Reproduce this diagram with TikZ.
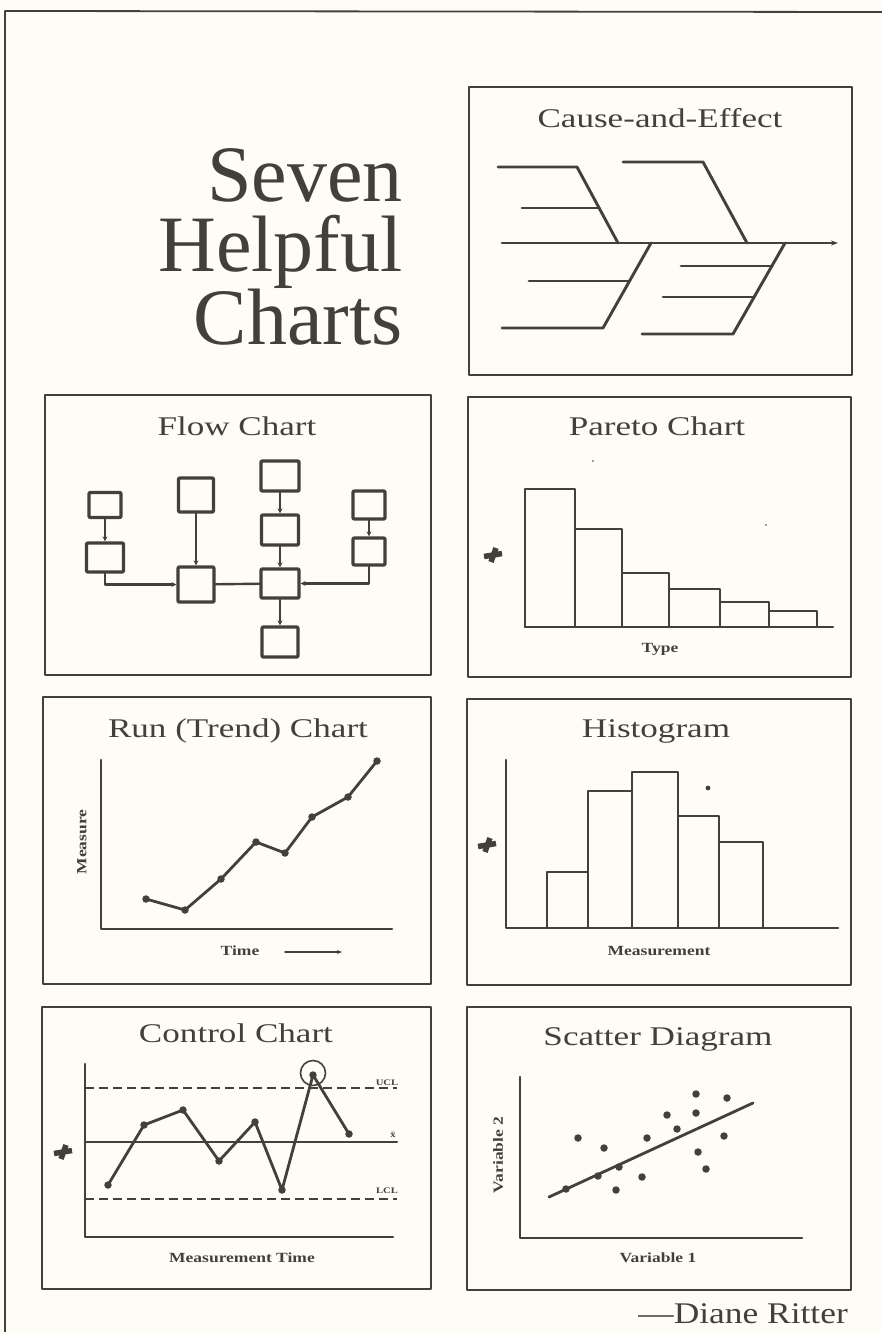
\documentclass[tikz,border=0pt]{standalone}
\usepackage{fontspec}
\setmainfont{Liberation Serif}
\newfontfamily\wideserif{Liberation Serif}[FakeStretch=1.3,Ligatures=TeX]
\newfontfamily\lblfont{Liberation Serif}[FakeStretch=1.25,Ligatures=TeX]
\newfontfamily\sigfont{Liberation Serif}[FakeStretch=1.18,Ligatures=TeX]
\usetikzlibrary{arrows.meta}
\definecolor{ink}{RGB}{66,64,58}
\definecolor{paper}{RGB}{253,253,246}
\begin{document}
\begin{tikzpicture}[x=1pt,y=-1pt,line join=round,line cap=round,
  every node/.style={text=ink,inner sep=0pt},
  panel/.style={draw=ink,line width=2.1pt,line cap=butt},
  ttl/.style={anchor=base,font=\wideserif\fontsize{27}{30}\selectfont},
  lbl/.style={anchor=base,font=\lblfont\fontsize{14}{16}\selectfont\bfseries},
  tiny/.style={anchor=base,font=\lblfont\fontsize{8.5}{9}\selectfont\bfseries},
  axis/.style={draw=ink,line width=2.6pt},
  bone/.style={draw=ink,line width=2.9pt},
  bar/.style={draw=ink,line width=2.8pt},
  fbox/.style={draw=ink,line width=3.2pt,rounded corners=1pt},
  conn/.style={draw=ink,line width=2.4pt},
  arr/.style={conn,-{Stealth[length=5pt,width=5pt]}},
  dot/.style={circle,fill=ink,minimum size=7.5pt},
  hashstroke/.style={draw=ink,line width=5.5pt,line cap=butt},
  trend/.style={draw=ink,line width=2.8pt},
  limitline/.style={draw=ink,line width=2.6pt,dash pattern=on 9pt off 5pt,line cap=butt}]
\fill[paper] (0,0) rectangle (882,1332);
\useasboundingbox (0,0) rectangle (882,1332);
% outer frame
\draw[draw=ink,line width=1.8pt,line cap=butt] (5,1332) -- (5,11) -- (882,12);

% big title
\node[anchor=north east,align=right,font=\fontsize{80}{70}\selectfont] (title) at (403,148) {Seven\\Helpful\\Charts};

% ---------------- Cause-and-Effect
\draw[panel] (469,87) rectangle (852,375);
\node[ttl] (ceT) at (660,128) {Cause-and-Effect};
\draw[bone,-{Stealth[length=7pt,width=5pt]}] (502,243) -- (838,243);
\draw[bone] (498,167) -- (577,167) -- (618,243);
\draw[bone] (522,208) -- (599,208);
\draw[bone] (623,162) -- (703,162) -- (747,243);
\draw[bone] (651,243) -- (603,328) -- (502,328);
\draw[bone] (529,281) -- (630,281);
\draw[bone] (785,243) -- (733,334) -- (642,334);
\draw[bone] (681,266) -- (772,266);
\draw[bone] (663,297) -- (754,297);

% ---------------- Flow Chart
\draw[panel] (45,395) rectangle (431,675);
\node[ttl] (flT) at (237,435) {Flow Chart};
\node[fbox,minimum width=32pt,minimum height=25pt] (A1) at (105,505) {};
\node[fbox,minimum width=37pt,minimum height=29pt] (A2) at (105,557.5) {};
\node[fbox,minimum width=35pt,minimum height=34pt] (B1) at (196,495) {};
\node[fbox,minimum width=36pt,minimum height=35pt] (B2) at (196,584.5) {};
\node[fbox,minimum width=38pt,minimum height=30pt] (C1) at (280,476) {};
\node[fbox,minimum width=37pt,minimum height=30pt] (C2) at (280,530) {};
\node[fbox,minimum width=38pt,minimum height=29pt] (C3) at (280,583.5) {};
\node[fbox,minimum width=36pt,minimum height=30pt] (C4) at (280,642) {};
\node[fbox,minimum width=32pt,minimum height=28pt] (D1) at (369,505) {};
\node[fbox,minimum width=32pt,minimum height=27pt] (D2) at (369,551.5) {};
\draw[arr] (A1) -- (A2);
\draw[arr] (A2.south) |- (B2.west);
\draw[arr] (B1) -- (B2);
\draw[conn] (B2) -- (C3);
\draw[arr] (C1) -- (C2);
\draw[arr] (C2) -- (C3);
\draw[arr] (C3) -- (C4);
\draw[arr] (D1) -- (D2);
\draw[arr] (D2.south) |- (C3.east);

% ---------------- Pareto Chart
\draw[panel] (468,397) rectangle (851,677);
\node[ttl] (paT) at (657,435) {Pareto Chart};
\draw[bar] (525,627) rectangle (575,489);
\draw[bar] (575,627) rectangle (622,529);
\draw[bar] (622,627) rectangle (669,573);
\draw[bar] (669,627) rectangle (720,589);
\draw[bar] (720,627) rectangle (769,602);
\draw[bar] (769,627) rectangle (817,611);
\draw[axis] (525,627) -- (833,627);
\node (paH) at (493,555) {};
\draw[hashstroke] ([shift={(-9,1.5)}]paH.center) -- ([shift={(9,-1.5)}]paH.center);
\draw[hashstroke] ([shift={(-2,7)}]paH.center) -- ([shift={(3,-7)}]paH.center);
\node[lbl] (paX) at (660,652) {Type};
\fill[ink] (593,461) circle (0.8pt);
\fill[ink] (766,525) circle (0.8pt);

% ---------------- Run (Trend) Chart
\draw[panel] (43,697) rectangle (431,984);
\node[ttl] (ruT) at (238,737) {Run (Trend) Chart};
\draw[axis] (101,760) -- (101,929) -- (392,929);
\node[lbl,anchor=center,rotate=90] (ruY) at (82,842) {Measure};
\node[lbl] (ruX) at (240,955) {Time};
\coordinate (ta) at (285,952);
\coordinate (tb) at (342,952);
\draw[draw=ink,line width=1.8pt,-{Stealth[length=5pt,width=4pt]}] (ta) -- (tb);
\node[dot] (r1) at (146,899) {};
\node[dot] (r2) at (185,910) {};
\node[dot] (r3) at (221,879) {};
\node[dot] (r4) at (256,842) {};
\node[dot] (r5) at (285,853) {};
\node[dot] (r6) at (312,817) {};
\node[dot] (r7) at (348,797) {};
\node[dot] (r8) at (377,761) {};
\draw[trend] (r1.center) -- (r2.center) -- (r3.center) -- (r4.center) -- (r5.center) -- (r6.center) -- (r7.center) -- (r8.center);

% ---------------- Histogram
\draw[panel] (467,699) rectangle (851,985);
\node[ttl] (hiT) at (656,737) {Histogram};
\draw[bar] (547,928) rectangle (588,872);
\draw[bar] (588,928) rectangle (632,791);
\draw[bar] (632,928) rectangle (678,772);
\draw[bar] (678,928) rectangle (719,816);
\draw[bar] (719,928) rectangle (763,842);
\draw[axis] (506,760) -- (506,928) -- (838,928);
\node (hiH) at (487,845) {};
\draw[hashstroke] ([shift={(-9,1.5)}]hiH.center) -- ([shift={(9,-1.5)}]hiH.center);
\draw[hashstroke] ([shift={(-2,7)}]hiH.center) -- ([shift={(3,-7)}]hiH.center);
\node[lbl] (hiX) at (659,955) {Measurement};
\fill[ink] (708,788) circle (2.4pt);

% ---------------- Control Chart
\draw[panel] (42,1007) rectangle (431,1289);
\node[ttl] (coT) at (236,1042) {Control Chart};
\draw[axis] (85,1064) -- (85,1237) -- (393,1237);
\draw[limitline] (85,1088) -- (397,1088);
\draw[draw=ink,line width=2.6pt] (85,1142) -- (397,1142);
\draw[limitline] (85,1199) -- (397,1199);
\node[tiny] (ucl) at (387,1085) {UCL};
\node[tiny] (xb) at (393,1137) {\={x}};
\node[tiny] (lcl) at (387,1193) {LCL};
\node (coH) at (63,1152) {};
\draw[hashstroke] ([shift={(-9,1.5)}]coH.center) -- ([shift={(9,-1.5)}]coH.center);
\draw[hashstroke] ([shift={(-2,7)}]coH.center) -- ([shift={(3,-7)}]coH.center);
\node[lbl] (coX) at (242,1262) {Measurement Time};
\node[dot] (c1) at (108,1185) {};
\node[dot] (c2) at (144,1125) {};
\node[dot] (c3) at (183,1110) {};
\node[dot] (c4) at (219,1161) {};
\node[dot] (c5) at (255,1122) {};
\node[dot] (c6) at (282,1190) {};
\node[dot] (c7) at (313,1075) {};
\node[dot] (c8) at (349,1134) {};
\draw[trend] (c1.center) -- (c2.center) -- (c3.center) -- (c4.center) -- (c5.center) -- (c6.center) -- (c7.center) -- (c8.center);
\node[draw=ink,line width=1.6pt,circle,minimum size=25pt] (ring) at (313,1073) {};

% ---------------- Scatter Diagram
\draw[panel] (467,1007) rectangle (851,1290);
\node[ttl] (scT) at (658,1045) {Scatter Diagram};
\draw[axis] (520,1077) -- (520,1238) -- (802,1238);
\coordinate (fa) at (549,1197);
\coordinate (fb) at (753,1103);
\draw[trend] (fa) -- (fb);
\node[lbl,anchor=center,rotate=90] (scY) at (498,1155) {Variable 2};
\node[lbl] (scX) at (658,1262) {Variable 1};
\foreach \p [count=\i] in {(566,1189),(578,1138),(598,1176),(604,1148),(619,1167),(616,1190),(642,1177),(647,1138),(667,1115),(677,1129),(696,1094),(696,1113),(698,1152),(706,1169),(724,1136),(727,1098)}
  \node[dot] (s\i) at \p {};

% signature
\node[anchor=base east,font=\sigfont\fontsize{30}{34}\selectfont] (sig) at (848,1323) {---Diane Ritter};
\end{tikzpicture}
\end{document}
